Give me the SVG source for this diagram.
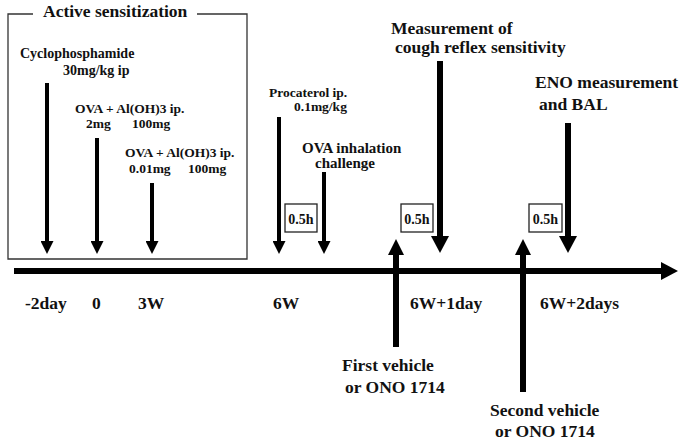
<svg xmlns="http://www.w3.org/2000/svg" width="685" height="445" viewBox="0 0 685 445" font-family="'Liberation Serif','DejaVu Serif',serif" font-weight="bold">
<style>
text{font-family:"Liberation Serif","DejaVu Serif",serif;font-weight:bold;fill:#111}
.s{font-size:14px}
.o{font-size:13.5px}
.p{font-size:13.5px}
.m{font-size:15px}
.l{font-size:17.5px}
.c{text-anchor:middle}
.ln{stroke:#000;fill:none}
.thin{stroke-width:4}
.thick{stroke-width:6}
.box{fill:#fff;stroke:#222;stroke-width:1.3}
</style>
<defs>
<marker id="hs" markerUnits="userSpaceOnUse" markerWidth="13" markerHeight="13" viewBox="0 0 13 13" refX="0" refY="6.5" orient="auto"><path d="M0,0 L13,6.5 L0,13 z" fill="#000"/></marker>
<marker id="hl" markerUnits="userSpaceOnUse" markerWidth="17" markerHeight="18" viewBox="0 0 17 18" refX="0" refY="9" orient="auto"><path d="M0,0 L17,9 L0,18 z" fill="#000"/></marker>
<marker id="hu" markerUnits="userSpaceOnUse" markerWidth="16" markerHeight="16" viewBox="0 0 16 16" refX="0" refY="8" orient="auto"><path d="M0,0 L16,8 L0,16 z" fill="#000"/></marker>
</defs>

<g id="sensitization-frame">
<path d="M33,14 H8 V259 H247 V14 H197" fill="none" stroke="#333" stroke-width="1.3"/>
<text class="l" x="43" y="17">Active sensitization</text>
</g>

<g id="connectors">
<line class="ln thick" x1="14" y1="271" x2="661" y2="271" marker-end="url(#hl)"/>
<line class="ln thin" x1="47" y1="83" x2="47" y2="241" marker-end="url(#hs)"/>
<line class="ln thin" x1="97" y1="138" x2="97" y2="241" marker-end="url(#hs)"/>
<line class="ln thin" x1="152" y1="183" x2="152" y2="241" marker-end="url(#hs)"/>
<line class="ln thin" x1="279" y1="117" x2="279" y2="241" marker-end="url(#hs)"/>
<line class="ln thin" x1="324" y1="172" x2="324" y2="241" marker-end="url(#hs)"/>
<line class="ln thick" x1="440" y1="61" x2="440" y2="236" marker-end="url(#hl)"/>
<line class="ln thick" x1="568" y1="123" x2="568" y2="236" marker-end="url(#hl)"/>
<line class="ln thick" x1="396" y1="347" x2="396" y2="255" marker-end="url(#hu)"/>
<line class="ln thick" x1="523" y1="392" x2="523" y2="255" marker-end="url(#hu)"/>
</g>

<g id="cyclophosphamide">
<text class="s" x="20" y="58">Cyclophosphamide</text>
<text class="s" x="63" y="75">30mg/kg ip</text>
</g>
<g id="ova-ip-1">
<text class="o" x="75" y="113">OVA + Al(OH)3 ip.</text>
<text class="o" x="86" y="128">2mg</text>
<text class="o" x="132" y="128">100mg</text>
</g>
<g id="ova-ip-2">
<text class="o" x="125" y="157">OVA + Al(OH)3 ip.</text>
<text class="o" x="129" y="173">0.01mg</text>
<text class="o" x="188" y="173">100mg</text>
</g>
<g id="procaterol">
<text class="p" x="269" y="97">Procaterol ip.</text>
<text class="p" x="294" y="111">0.1mg/kg</text>
</g>
<g id="ova-inhalation">
<text class="m" x="302" y="153">OVA inhalation</text>
<text class="m" x="315" y="168">challenge</text>
</g>
<g id="cough">
<text class="l" x="391" y="34">Measurement of</text>
<text class="l" x="395" y="53">cough reflex sensitivity</text>
</g>
<g id="eno">
<text class="l" x="535" y="88">ENO measurement</text>
<text class="l" x="539" y="110">and BAL</text>
</g>
<g id="interval-1">
<rect class="box" x="285" y="204" width="32" height="28"/>
<text class="s c" x="301" y="224">0.5h</text>
</g>
<g id="interval-2">
<rect class="box" x="401" y="204" width="32" height="28"/>
<text class="s c" x="417" y="224">0.5h</text>
</g>
<g id="interval-3">
<rect class="box" x="529" y="204" width="33" height="28"/>
<text class="s c" x="545.5" y="224">0.5h</text>
</g>
<g id="time-labels">
<text class="l" x="25" y="309">-2day</text>
<text class="l" x="92" y="309">0</text>
<text class="l" x="138" y="309">3W</text>
<text class="l" x="273" y="309">6W</text>
<text class="l" x="410" y="309">6W+1day</text>
<text class="l" x="540" y="309">6W+2days</text>
</g>
<g id="first-vehicle">
<text class="l" x="342" y="371">First vehicle</text>
<text class="l" x="345" y="393">or ONO 1714</text>
</g>
<g id="second-vehicle">
<text class="l" x="490" y="416">Second vehicle</text>
<text class="l" x="495" y="437">or ONO 1714</text>
</g>
</svg>
